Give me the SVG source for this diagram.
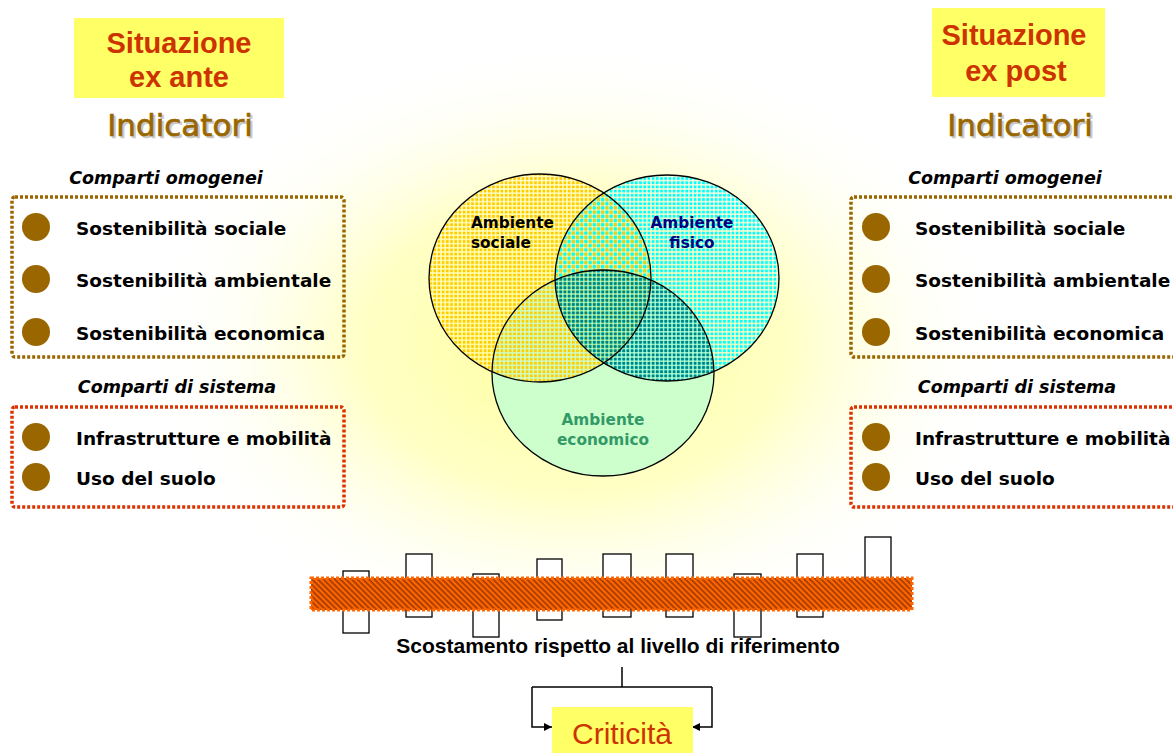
<svg xmlns="http://www.w3.org/2000/svg" width="1173" height="753" viewBox="0 0 1173 753">
<defs>
  <radialGradient id="glow" cx="575" cy="345" r="430" gradientUnits="userSpaceOnUse" gradientTransform="translate(575 345) scale(1 0.7) translate(-575 -345)">
    <stop offset="0" stop-color="#FFFF99" stop-opacity="1"/>
    <stop offset="0.5" stop-color="#FFFFB3" stop-opacity="0.75"/>
    <stop offset="1" stop-color="#FFFFFF" stop-opacity="0"/>
  </radialGradient>
  <pattern id="dotsY" width="4.2" height="4.2" patternUnits="userSpaceOnUse">
    <rect x="0.7" y="0.7" width="2.8" height="2.8" fill="#FFCC00"/>
  </pattern>
  <pattern id="dotsC" width="4.2" height="4.2" patternUnits="userSpaceOnUse">
    <rect x="0.7" y="0.7" width="2.8" height="2.8" fill="#00FFFF"/>
  </pattern>
  <pattern id="dotsT" width="4.2" height="4.2" patternUnits="userSpaceOnUse">
    <rect x="0.7" y="0.7" width="2.8" height="2.8" fill="#008080"/>
  </pattern>
  <pattern id="dotsMix" width="8.4" height="8.4" patternUnits="userSpaceOnUse">
    <rect x="0.7" y="0.7" width="2.8" height="2.8" fill="#00FFFF"/>
    <rect x="4.9" y="0.7" width="2.8" height="2.8" fill="#FFCC00"/>
    <rect x="0.7" y="4.9" width="2.8" height="2.8" fill="#FFCC00"/>
    <rect x="4.9" y="4.9" width="2.8" height="2.8" fill="#00FFFF"/>
  </pattern>
  <pattern id="hatch" width="4" height="4" patternUnits="userSpaceOnUse" patternTransform="rotate(45)">
    <rect width="4" height="4" fill="#FF6600"/>
    <rect width="4" height="1.8" fill="#A63C00"/>
  </pattern>
  <clipPath id="clipEcon"><ellipse cx="603" cy="373" rx="111" ry="103"/></clipPath>
  <clipPath id="clipSoc"><ellipse cx="540" cy="278" rx="111" ry="104"/></clipPath>
  <marker id="arr" viewBox="0 0 10 10" refX="10" refY="5" markerWidth="8" markerHeight="8" markerUnits="userSpaceOnUse" orient="auto">
    <path d="M0,0 L10,5 L0,10 z" fill="#000"/>
  </marker>
  <style>
    .title{font-family:"Liberation Sans",Arial,sans-serif;font-weight:bold;font-size:29px;fill:#CC3300;text-anchor:middle}
    .ind{font-family:"DejaVu Sans",Verdana,sans-serif;font-size:31px;fill:#996600;stroke:#996600;stroke-width:0.7;text-anchor:middle}
    .indsh{font-family:"DejaVu Sans",Verdana,sans-serif;font-size:31px;fill:#C8C8C8;stroke:#C8C8C8;stroke-width:0.7;text-anchor:middle}
    .sub{font-family:"DejaVu Sans",Verdana,sans-serif;font-weight:bold;font-style:italic;font-size:17.5px;fill:#000;text-anchor:middle}
    .item{font-family:"DejaVu Sans",Verdana,sans-serif;font-weight:bold;font-size:18.5px;fill:#000}
    .dot{fill:#996600}
    .boxB{fill:none;stroke:#996600;stroke-width:3.5;stroke-dasharray:3 2}
    .boxR{fill:none;stroke:#DD3300;stroke-width:3.5;stroke-dasharray:3 2}
    .yel{fill:#FFFF66}
    .venn{font-family:"DejaVu Sans",Verdana,sans-serif;font-weight:bold;font-size:15.3px}
    .bar{fill:#FFFFFF;stroke:#000;stroke-width:1.3}
    .conn{fill:none;stroke:#000;stroke-width:1.5}
  </style>
</defs>
<rect width="1173" height="753" fill="#FFFFFF"/>
<rect width="1173" height="753" fill="url(#glow)"/>

<g id="exante-title">
  <rect class="yel" x="74" y="18" width="210" height="80"/>
  <text class="title" x="179" y="53">Situazione</text>
  <text class="title" x="179" y="87">ex ante</text>
  <text class="indsh" x="182" y="138">Indicatori</text>
  <text class="ind" x="180" y="136">Indicatori</text>
</g>
<g id="exante-omogenei">
  <text class="sub" x="166" y="184">Comparti omogenei</text>
  <rect class="boxB" x="12" y="197" width="332" height="160" rx="3"/>
  <circle class="dot" cx="36" cy="227" r="14"/>
  <circle class="dot" cx="36" cy="279" r="14"/>
  <circle class="dot" cx="36" cy="332" r="14"/>
  <text class="item" x="76" y="235">Sostenibilità sociale</text>
  <text class="item" x="76" y="287">Sostenibilità ambientale</text>
  <text class="item" x="76" y="340">Sostenibilità economica</text>
</g>
<g id="exante-sistema">
  <text class="sub" x="177" y="393">Comparti di sistema</text>
  <rect class="boxR" x="12" y="407" width="332" height="100" rx="3"/>
  <circle class="dot" cx="36" cy="437" r="14"/>
  <circle class="dot" cx="36" cy="477" r="14"/>
  <text class="item" x="76" y="445">Infrastrutture e mobilità</text>
  <text class="item" x="76" y="485">Uso del suolo</text>
</g>

<g id="expost-title">
  <rect class="yel" x="932" y="8" width="173" height="89"/>
  <text class="title" x="1014" y="45">Situazione</text>
  <text class="title" x="1016" y="81">ex post</text>
  <text class="indsh" x="1022" y="138">Indicatori</text>
  <text class="ind" x="1020" y="136">Indicatori</text>
</g>
<g id="expost-omogenei">
  <text class="sub" x="1005" y="184">Comparti omogenei</text>
  <rect class="boxB" x="851" y="197" width="340" height="160" rx="3"/>
  <circle class="dot" cx="876" cy="227" r="14"/>
  <circle class="dot" cx="876" cy="279" r="14"/>
  <circle class="dot" cx="876" cy="332" r="14"/>
  <text class="item" x="915" y="235">Sostenibilità sociale</text>
  <text class="item" x="915" y="287">Sostenibilità ambientale</text>
  <text class="item" x="915" y="340">Sostenibilità economica</text>
</g>
<g id="expost-sistema">
  <text class="sub" x="1017" y="393">Comparti di sistema</text>
  <rect class="boxR" x="851" y="407" width="340" height="100" rx="3"/>
  <circle class="dot" cx="876" cy="437" r="14"/>
  <circle class="dot" cx="876" cy="477" r="14"/>
  <text class="item" x="915" y="445">Infrastrutture e mobilità</text>
  <text class="item" x="915" y="485">Uso del suolo</text>
</g>

<g id="venn">
  <ellipse cx="603" cy="373" rx="111" ry="103" fill="#CCFFCC"/>
  <ellipse cx="540" cy="278" rx="111" ry="104" fill="url(#dotsY)"/>
  <ellipse cx="667" cy="278" rx="112" ry="103" fill="url(#dotsC)"/>
  <ellipse cx="667" cy="278" rx="112" ry="103" fill="url(#dotsMix)" clip-path="url(#clipSoc)"/>
  <ellipse cx="667" cy="278" rx="112" ry="103" fill="url(#dotsT)" clip-path="url(#clipEcon)"/>
  <ellipse cx="540" cy="278" rx="111" ry="104" fill="none" stroke="#000" stroke-width="1.3"/>
  <ellipse cx="667" cy="278" rx="112" ry="103" fill="none" stroke="#000" stroke-width="1.3"/>
  <ellipse cx="603" cy="373" rx="111" ry="103" fill="none" stroke="#000" stroke-width="1.3"/>
  <text class="venn" x="471" y="228" fill="#000">Ambiente</text>
  <text class="venn" x="471" y="248" fill="#000">sociale</text>
  <text class="venn" x="692" y="228" fill="#000080" text-anchor="middle">Ambiente</text>
  <text class="venn" x="692" y="248" fill="#000080" text-anchor="middle">fisico</text>
  <text class="venn" x="603" y="425" fill="#339966" text-anchor="middle">Ambiente</text>
  <text class="venn" x="603" y="445" fill="#339966" text-anchor="middle">economico</text>
</g>

<g id="chart">
  <rect class="bar" x="343" y="571" width="26" height="62"/>
  <rect class="bar" x="406" y="554" width="26" height="63"/>
  <rect class="bar" x="473" y="574" width="26" height="63"/>
  <rect class="bar" x="537" y="559" width="25" height="61"/>
  <rect class="bar" x="603" y="554" width="28" height="63"/>
  <rect class="bar" x="666" y="554" width="27" height="63"/>
  <rect class="bar" x="734" y="574" width="27" height="63"/>
  <rect class="bar" x="797" y="554" width="26" height="63"/>
  <rect class="bar" x="865" y="537" width="26" height="60"/>
  <rect x="311" y="578" width="601" height="32" fill="url(#hatch)" stroke="#FF6600" stroke-width="3" stroke-dasharray="3 2"/>
  <text x="618" y="653" font-family="Liberation Sans, Arial, sans-serif" font-weight="bold" font-size="21" text-anchor="middle" fill="#000">Scostamento rispetto al livello di riferimento</text>
</g>

<g id="connectors">
  <path class="conn" d="M622,667 V687 M532,687 H712"/>
  <path class="conn" d="M532,687 V727 H552" marker-end="url(#arr)"/>
  <path class="conn" d="M712,687 V727 H692" marker-end="url(#arr)"/>
</g>

<g id="criticita">
  <rect class="yel" x="552" y="707" width="141" height="46"/>
  <text x="622" y="744" font-family="Liberation Sans, Arial, sans-serif" font-size="30" text-anchor="middle" fill="#CC3300">Criticità</text>
</g>
</svg>
